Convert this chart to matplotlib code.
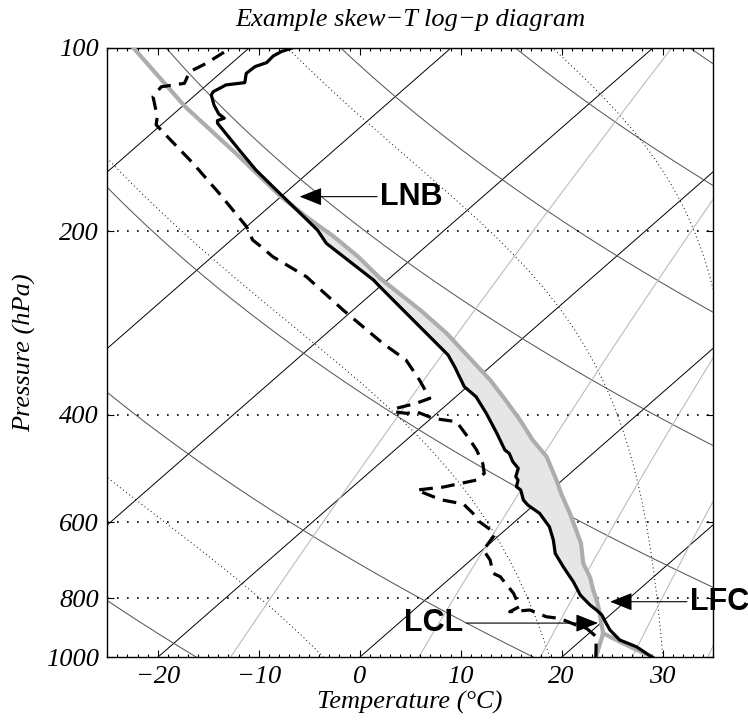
import numpy as np
import matplotlib
matplotlib.use('Agg')
import matplotlib.pyplot as plt
from matplotlib.ticker import FixedLocator, MultipleLocator, NullLocator, FixedFormatter

# --- sounding (pressure hPa, temperature degC) ---
temp_p = [1000, 960.7, 936.7, 902.0, 874.2, 852.3, 836.4, 820.8, 790.4, 751.6,
          737.6, 710.2, 675.4, 642.2, 610.7, 580.4, 562.6, 552.1, 531.6, 525.0,
          511.9, 505.5, 489.8, 477.6, 462.8, 457.1, 429.0, 397.9, 373.7, 359.8,
          333.8, 319.2, 246.6, 240.4, 209.4, 199.1, 171.2, 158.7, 147.2, 133.0,
          131.7, 130.5, 128.5, 124.2, 119.6, 118.1, 115.1, 114.1, 110.2, 107.4,
          105.8, 103.2, 101.5, 100.0]
temp_t = [29.0, 26.2, 23.8, 21.7, 20.3, 19.2, 18.1, 16.9, 14.8, 12.6,
          11.7, 9.9, 7.6, 5.9, 4.0, 1.5, -0.6, -1.6, -3.0, -3.8,
          -4.4, -5.0, -5.7, -7.0, -8.3, -9.1, -11.8, -15.1, -18.0, -20.3,
          -23.5, -25.5, -40.0, -41.4, -50.2, -52.6, -61.2, -65.5, -69.4, -74.6,
          -74.9, -74.5, -75.5, -77.0, -78.4, -78.6, -78.1, -76.5, -77.4, -77.3,
          -76.6, -76.7, -76.4, -75.7]

dewp_p = [1000, 925.1, 896.4, 885.3, 863.2, 858.0, 836.4, 841.8, 825.9, 785.4,
          737.6, 728.1, 692.5, 666.8, 630.1, 622.3, 599.2, 580.4, 560.4, 552.1,
          545.2, 531.6, 525.6, 511.9, 499.1, 480.5, 457.1, 440.0, 410.7, 405.5,
          395.5, 397.9, 395.5, 390.5, 383.2, 376.0, 350.8, 325.3, 305.4, 269.3,
          237.5, 220.2, 212.0, 206.7, 196.6, 173.3, 154.7, 140.8, 133.8, 129.8,
          120.3, 115.9, 114.4, 109.5, 106.1, 100.0]
dewp_t = [23.4, 21.1, 19.2, 17.8, 15.4, 13.9, 11.5, 9.7, 10.1, 8.0,
          4.8, 3.7, 1.9, 0.1, -0.5, -1.0, -3.5, -5.1, -7.1, -9.6,
          -10.9, -13.3, -11.0, -8.5, -8.5, -9.8, -11.9, -13.7, -17.1, -19.8,
          -22.2, -23.0, -24.5, -24.6, -23.2, -22.4, -25.5, -29.1, -33.3, -41.0,
          -48.4, -54.0, -56.3, -57.9, -60.0, -66.5, -72.5, -77.7, -80.5, -81.3,
          -84.0, -84.3, -82.4, -83.2, -82.5, -81.8]

# lifted parcel: moist ascent above the LCL, plus the two branches below it
parcel_p = [913.3, 880, 846.9, 810, 775.5, 740, 701.2, 650, 580.4, 540,
            511.9, 468.8, 440, 408.1, 380, 350.8, 320, 294.1, 270, 238.6,
            220, 204.2, 190, 175.5, 150, 124.9, 100.0]
parcel_t = [21.4, 20.1, 18.8, 17.2, 15.5, 13.8, 11.5, 9.0, 4.5, 1.5,
            -0.6, -4.2, -7.5, -11.0, -14.5, -18.5, -23.5, -28.1, -33.2, -41.0,
            -45.6, -50.2, -55.0, -60.0, -69.0, -79.7, -91.5]
parcel_dry_p = [1000, 948.5, 913.3]
parcel_dry_t = [29.0, 24.5, 21.4]
parcel_wet_p = [1000, 913.3]
parcel_wet_t = [23.4, 21.4]

# annotated levels: (label, pressure, skewed x of arrow tip, skewed x of text)
levels = [('LNB', 175.5, -5.95, 2.0),
          ('LFC', 810.5, 24.8, 32.7),
          ('LCL', 878.7, 23.6, 10.3)]

# background families
isotherms = np.arange(-100, 41, 20)
theta_dry = [257.0, 290.4, 323.8, 357.2, 390.6, 424.0, 457.4]   # K
theta_e = [277.0, 328.5, 380.5, 433.0]                           # K
mix_ratio = [1.43, 5.8, 13.0, 23.0, 36.0]                        # g/kg

SKEW = 30.0


def skew(t, p):
    return np.asarray(t, float) + SKEW * np.log(1000.0 / np.asarray(p, float))


def esat(t):
    return 6.112 * np.exp(17.67 * t / (t + 243.5))


def thetae(T, p):
    es = esat(T - 273.15)
    rs = 0.622 * es / (p - es)
    return T * (1000.0 / p) ** 0.286 * np.exp(2.5e6 * rs / (1004.0 * T))


def moist_line(the, p):
    lo = np.full_like(p, 150.0)
    hi = np.full_like(p, 320.0)
    for _ in range(60):
        mid = 0.5 * (lo + hi)
        up = thetae(mid, p) > the
        hi = np.where(up, mid, hi)
        lo = np.where(up, lo, mid)
    return 0.5 * (lo + hi) - 273.15


plt.rcParams['font.family'] = ['Liberation Serif', 'DejaVu Serif']

fig = plt.figure(figsize=(7.48, 7.24), dpi=100)
ax = fig.add_axes([0.1434, 0.0921, 0.8098, 0.8420])
ax.set_yscale('log')

pp = np.logspace(3, 2, 600)

for t in isotherms:
    ax.plot(skew([t, t], [1000, 100]), [1000, 100], color='k', lw=0.7, zorder=1)
for th in theta_dry:
    ax.plot(skew(th * (pp / 1000.0) ** 0.286 - 273.15, pp), pp,
            color='0.35', lw=0.75, zorder=1)
for the in theta_e:
    ax.plot(skew(moist_line(the, pp), pp), pp, color='k', lw=0.7,
            ls=(0, (1, 3)), zorder=1)
for w in mix_ratio:
    e = w * pp / (622.0 + w)
    L = np.log(e / 6.112)
    td = 243.5 * L / (17.67 - L)
    ax.plot(skew(td, pp), pp, color='0.72', lw=0.75, zorder=1)

for p in [200, 400, 600, 800]:
    ax.axhline(p, color='k', lw=1.2, ls=(0, (1, 5)), zorder=1)

# CAPE shading between parcel and environment
tp = np.array(temp_p)[::-1]
tx = skew(temp_t, temp_p)[::-1]
pp2 = np.array(parcel_p)[::-1]
px = skew(parcel_t, parcel_p)[::-1]
pf = np.logspace(np.log10(178), np.log10(860), 500)
xt = np.interp(pf, tp, tx)
xp = np.interp(pf, pp2, px)
ax.fill_betweenx(pf, xt, xp, where=xp > xt, interpolate=True,
                 color='0.9', lw=0, zorder=2)

ax.plot(skew(parcel_t, parcel_p), parcel_p, color='0.68', lw=3.0, zorder=3)
ax.plot(skew(parcel_dry_t, parcel_dry_p), parcel_dry_p, color='0.68', lw=3.0, zorder=3)
ax.plot(skew(parcel_wet_t, parcel_wet_p), parcel_wet_p, color='0.68', lw=3.0, zorder=3)
ax.plot(skew(temp_t, temp_p), temp_p, color='k', lw=2.3, zorder=4)
ax.plot(skew(dewp_t, dewp_p), dewp_p, color='k', lw=2.3, ls=(0, (4.3, 2.6)), zorder=4)

for name, p, xtip, xtxt in levels:
    ha = 'right' if name == 'LCL' else 'left'
    ax.annotate(name, xy=(xtip, p), xytext=(xtxt, p), ha=ha, va='center',
                fontsize=22, fontweight='bold', family='Liberation Sans',
                annotation_clip=False, zorder=6,
                arrowprops=dict(arrowstyle='-|>,head_length=0.7,head_width=0.28',
                                color='k', lw=0.8, mutation_scale=20,
                                shrinkA=0, shrinkB=0))

ax.set_xlim(-25, 35)
ax.set_ylim(1000, 100)
ax.yaxis.set_major_locator(FixedLocator([100, 200, 400, 600, 800, 1000]))
ax.yaxis.set_major_formatter(FixedFormatter(['100', '200', '400', '600', '800', '1000']))
ax.yaxis.set_minor_locator(NullLocator())
ax.xaxis.set_major_locator(MultipleLocator(10))
ax.xaxis.set_minor_locator(MultipleLocator(1))
ax.tick_params(which='both', direction='in', top=True, right=True,
               labelsize=19, width=0.8)
ax.tick_params(which='major', length=5, pad=6)
ax.tick_params(which='minor', length=2.5)
for lab in ax.get_xticklabels() + ax.get_yticklabels():
    lab.set_style('italic')
for s in ax.spines.values():
    s.set_linewidth(1.0)

ax.set_xlabel('Temperature (\u00b0C)', fontsize=19, style='italic', labelpad=2)
ax.set_ylabel('Pressure (hPa)', fontsize=19, style='italic', labelpad=7)
fig.text(0.549, 1 - 20 / 724, 'Example skew\u2212T log\u2212p diagram',
         fontsize=19, style='italic', ha='center', va='center')

fig.savefig('out.png', dpi=100)
